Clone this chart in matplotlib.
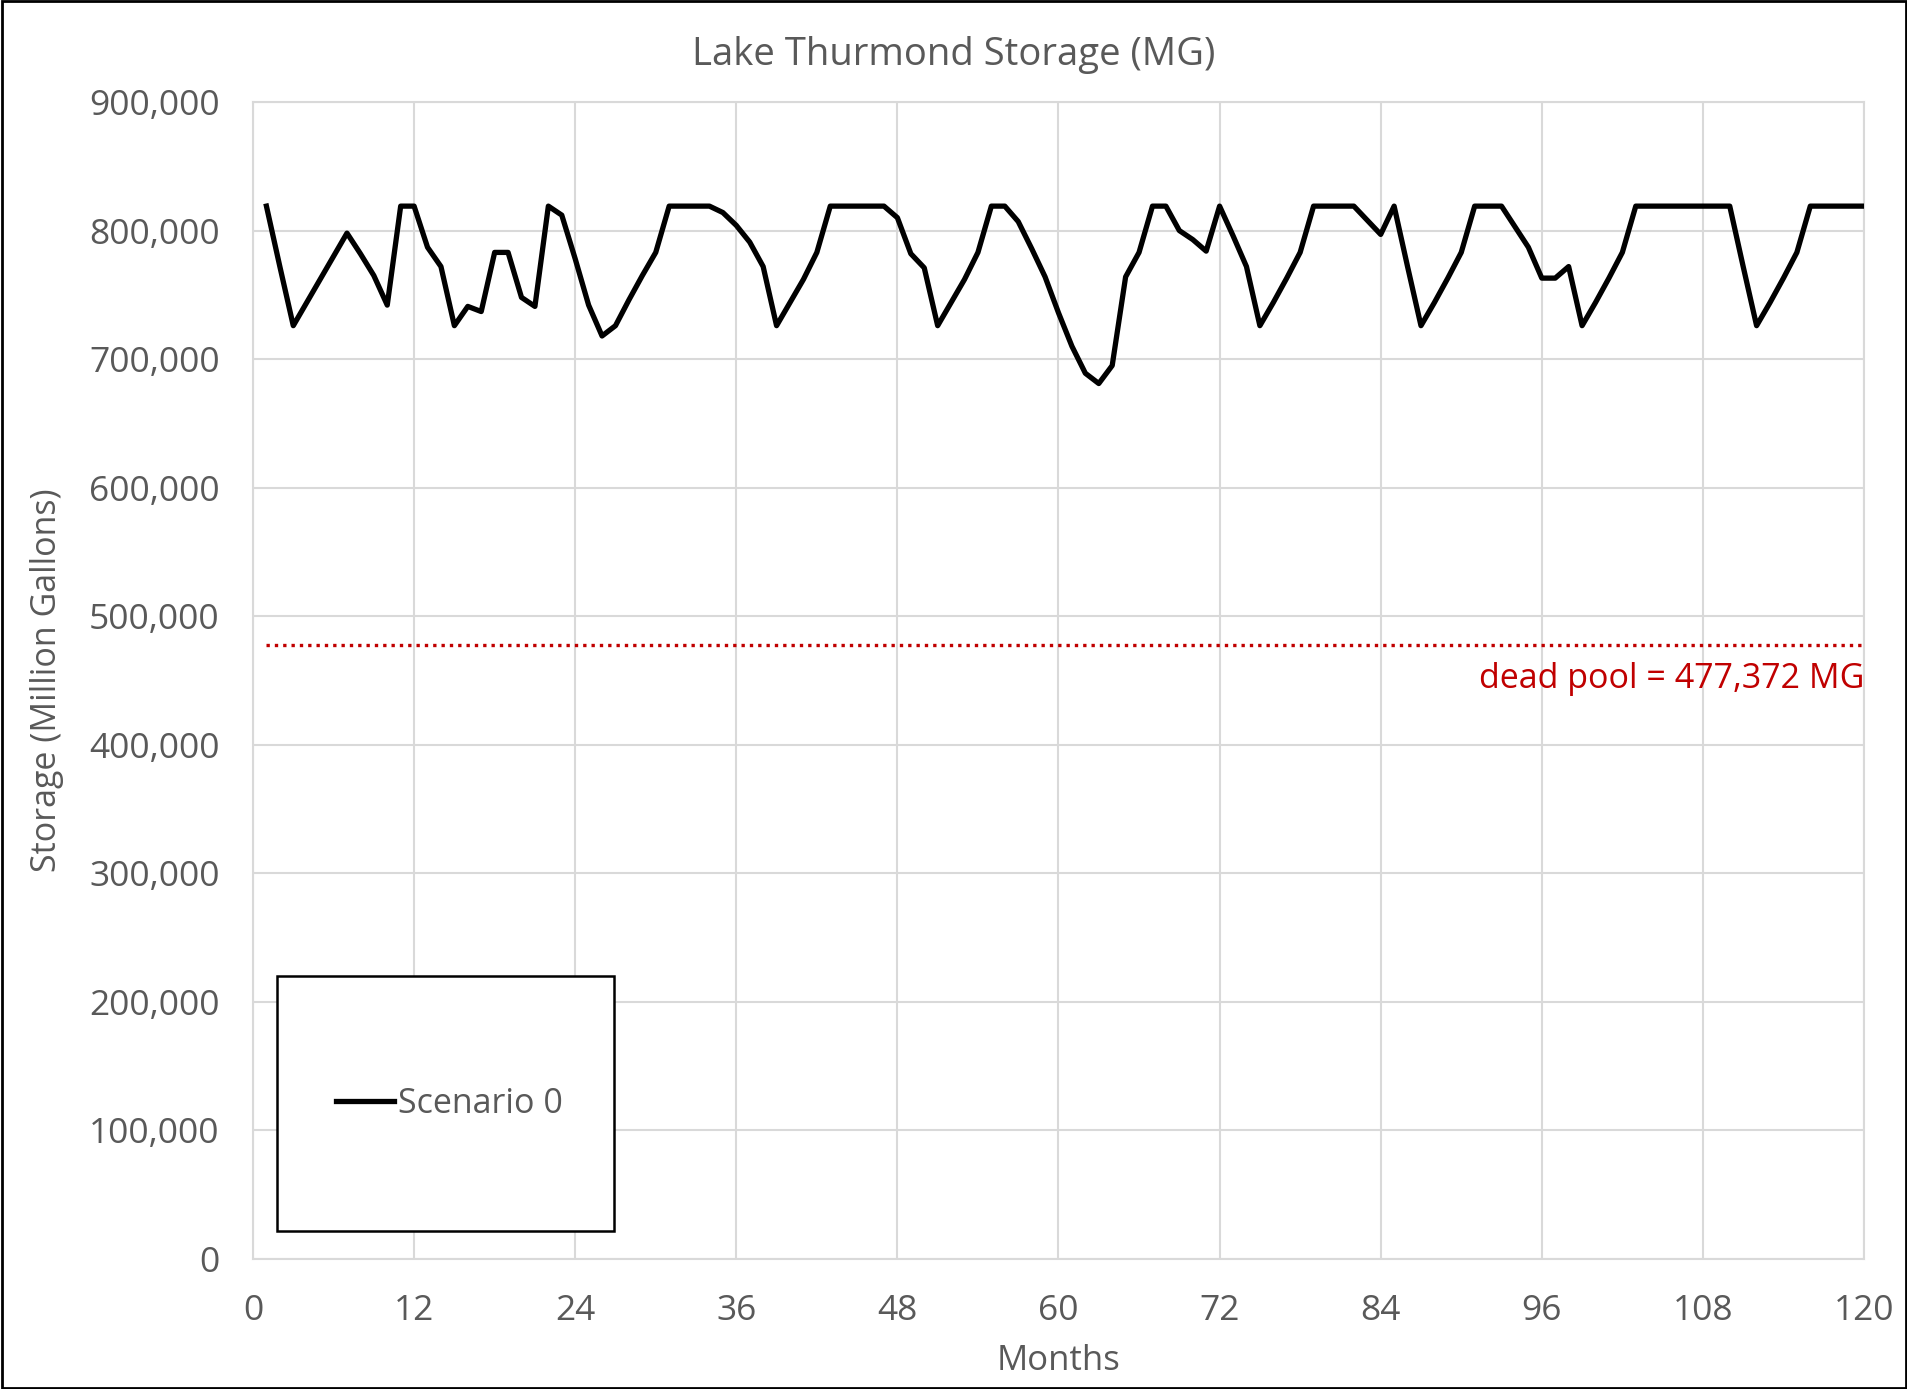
import numpy as np
import matplotlib.pyplot as plt
from matplotlib.patches import Rectangle
from matplotlib.ticker import FuncFormatter

plt.rcParams['font.family'] = ['Open Sans', 'DejaVu Sans']

# monthly storage (MG)
months = list(range(1, 121))
storage = [
    819000, 772000, 726000, 744000, 762000, 780000, 798000, 782000, 765000, 742000,
    819000, 819000, 787000, 772000, 726000, 741000, 737000, 783000, 783000, 748000,
    741000, 819000, 812000, 778000, 742000, 718000, 726000, 746000, 765000, 783000,
    819000, 819000, 819000, 819000, 814000, 804000, 791000, 772000, 726000, 744000,
    762000, 783000, 819000, 819000, 819000, 819000, 819000, 810000, 782000, 771000,
    726000, 744000, 762000, 783000, 819000, 819000, 807000, 786000, 764000, 736000,
    710000, 689000, 681000, 695000, 764000, 783000, 819000, 819000, 800000, 793000,
    784000, 819000, 796000, 772000, 726000, 744000, 763000, 783000, 819000, 819000,
    819000, 819000, 808000, 797000, 819000, 772000, 726000, 744000, 763000, 783000,
    819000, 819000, 819000, 803000, 787000, 763000, 763000, 772000, 726000, 744000,
    763000, 783000, 819000, 819000, 819000, 819000, 819000, 819000, 819000, 819000,
    772000, 726000, 744000, 763000, 783000, 819000, 819000, 819000, 819000, 819000,
]
dead_pool = 477372

grey = '#595959'
gridc = '#d9d9d9'

fig = plt.figure(figsize=(19.08, 13.89), dpi=100)
ax = fig.add_axes([253/1908, 1 - 1259/1389, 1611/1908, 1157/1389])

ax.plot(months, storage, color='black', lw=3.8, label='Scenario 0', zorder=3)
ax.plot([months[0], months[-1]], [dead_pool, dead_pool], color='#c00000', lw=2.4,
        ls=(0, (1, 1.5)), zorder=2)
ax.text(120, 451000, 'dead pool = 477,372 MG', color='#c00000', fontsize=24.5,
        ha='right', va='center')

ax.set_xlim(0, 120)
ax.set_ylim(0, 900000)
ax.set_xticks(range(0, 121, 12))
ax.set_yticks(range(0, 900001, 100000))
ax.yaxis.set_major_formatter(FuncFormatter(lambda v, p: f'{int(v):,}'))
ax.tick_params(length=0, labelsize=25.5, labelcolor=grey)
ax.tick_params(axis='x', pad=25)
ax.tick_params(axis='y', pad=24)
ax.grid(True, color=gridc, lw=1.5, zorder=0)
for s in ax.spines.values():
    s.set_color(gridc)
    s.set_linewidth(1.5)

# title is centred on the whole figure, not the plot area
fig.text(0.5, 1 - 55/1389, 'Lake Thurmond Storage (MG)', fontsize=27.5, color=grey,
         ha='center', va='center')
ax.set_xlabel('Months', fontsize=25, color=grey, labelpad=12)
ax.set_ylabel('Storage (Million Gallons)', fontsize=24.5, color=grey, labelpad=18)

# legend box
ax.add_patch(Rectangle((0.0149, 0.024), 0.209, 0.2206, transform=ax.transAxes,
                       facecolor='white', edgecolor='black', lw=1.8, zorder=4))
leg = ax.legend(loc='center', bbox_to_anchor=(0.122, 0.134), frameon=False,
                fontsize=24.5, handlelength=1.7, handletextpad=0.1)
leg.set_zorder(5)
for t in leg.get_texts():
    t.set_color(grey)

fig.patches.append(Rectangle((0.001, 0.001), 0.998, 0.998, transform=fig.transFigure,
                             fill=False, edgecolor='black', lw=2))

fig.savefig('out.png', dpi=100, facecolor='white')
